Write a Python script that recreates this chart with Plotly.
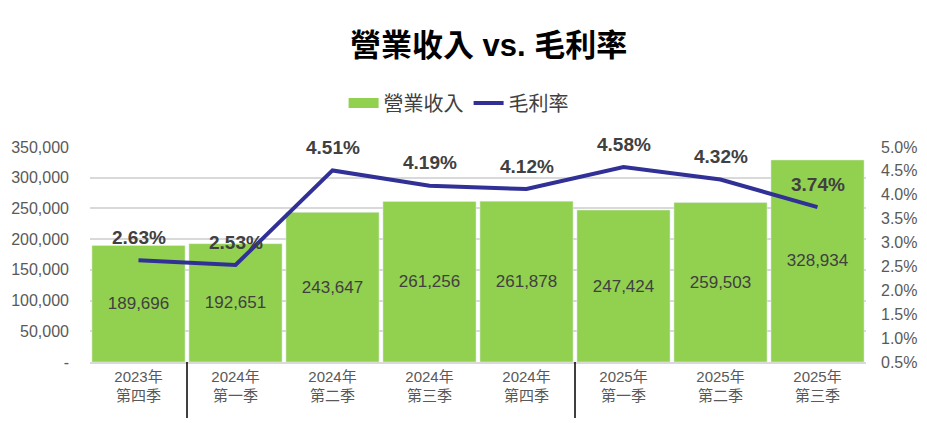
import plotly.graph_objects as go

# 數據
quarters = ["2023年<br>第四季", "2024年<br>第一季", "2024年<br>第二季", "2024年<br>第三季",
            "2024年<br>第四季", "2025年<br>第一季", "2025年<br>第二季", "2025年<br>第三季"]
revenue = [189696, 192651, 243647, 261256, 261878, 247424, 259503, 328934]
gross_margin = [2.63, 2.53, 4.51, 4.19, 4.12, 4.58, 4.32, 3.74]

left_ticks = [0, 50000, 100000, 150000, 200000, 250000, 300000, 350000]
left_ticktext = ["-", "50,000", "100,000", "150,000", "200,000", "250,000", "300,000", "350,000"]
right_ticks = [0.5, 1.0, 1.5, 2.0, 2.5, 3.0, 3.5, 4.0, 4.5, 5.0]

FONT = "Liberation Sans, Arial, Noto Sans CJK TC"
GREEN = "#92D050"
NAVY = "#303096"
TXT = "#595959"

fig = go.Figure()

fig.add_trace(go.Bar(
    x=quarters, y=revenue, name="營業收入",
    marker_color=GREEN, showlegend=False,
    text=[f"{v:,}" for v in revenue],
    textposition="inside", insidetextanchor="middle",
    textfont=dict(size=17, color="#404040", family=FONT),
    hoverinfo="skip",
))

# 圖例用（寬色塊）
fig.add_trace(go.Scatter(
    x=[None], y=[None], name="營業收入", mode="lines",
    line=dict(color=GREEN, width=12),
))

fig.add_trace(go.Scatter(
    x=quarters, y=gross_margin, name="毛利率", yaxis="y2",
    mode="lines", line=dict(color=NAVY, width=4),
))

# 毛利率標籤
for q, m in zip(quarters, gross_margin):
    fig.add_annotation(x=q, y=m, yref="y2", text=f"<b>{m:.2f}%</b>",
                       showarrow=False, yshift=23,
                       font=dict(size=19, color="#404040", family=FONT))

# 年度分隔線
for xpos in [0.5, 4.5]:
    fig.add_shape(type="line", xref="x", yref="paper", x0=xpos, x1=xpos,
                  y0=0, y1=-0.26, line=dict(color="black", width=1.5))

# 頁面 body 有 8px 邊距，圖表尺寸相應縮小
fig.update_layout(
    width=919, height=415,
    margin=dict(l=82, r=61, t=139, b=61, autoexpand=False),
    paper_bgcolor="white", plot_bgcolor="white",
    font=dict(family=FONT, color=TXT),
    title=dict(text="<b>營業收入 vs. 毛利率</b>", x=0.523, xanchor="center",
               y=0.91, yanchor="middle",
               font=dict(size=31, color="black", family=FONT)),
    legend=dict(orientation="h", x=0.475, xanchor="center", y=1.205, yanchor="middle",
                font=dict(size=20, color="#404040"), traceorder="normal"),
    bargap=0.04,
    xaxis=dict(showline=True, linecolor="#D9D9D9", linewidth=1.5,
               tickfont=dict(size=15, color=TXT), ticks=""),
    yaxis=dict(range=[0, 350000], tickvals=left_ticks, ticktext=left_ticktext,
               showgrid=True, gridcolor="#D9D9D9", gridwidth=1.5, zeroline=False,
               tickfont=dict(size=16, color=TXT), ticklabelstandoff=20),
    yaxis2=dict(overlaying="y", side="right", range=[0.5, 5.0], tickvals=right_ticks,
                ticktext=[f"{t:.1f}%" for t in right_ticks],
                showgrid=False, zeroline=False,
                tickfont=dict(size=16, color=TXT), ticklabelstandoff=14),
)

fig.write_html("out.html")
